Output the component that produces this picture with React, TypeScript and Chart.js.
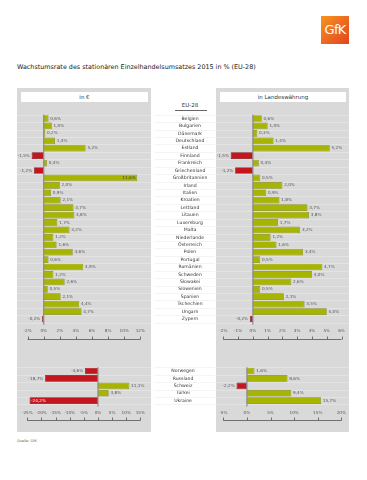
import React, { useEffect, useRef } from "react";
import { Chart, registerables } from "chart.js";

Chart.register(...registerables);

// ---------- DATA ----------
const euCountries = [
  "Belgien", "Bulgarien", "Dänemark", "Deutschland", "Estland", "Finnland",
  "Frankreich", "Griechenland", "Großbritannien", "Irland", "Italien", "Kroatien",
  "Lettland", "Litauen", "Luxemburg", "Malta", "Niederlande", "Österreich",
  "Polen", "Portugal", "Rumänien", "Schweden", "Slowakei", "Slowenien",
  "Spanien", "Tschechien", "Ungarn", "Zypern",
];
const euInEuro = [
  0.6, 1.0, 0.2, 1.4, 5.2, -1.5, 0.4, -1.2, 11.6, 2.0, 0.9, 2.1, 3.7, 3.8,
  1.7, 3.2, 1.2, 1.6, 3.6, 0.6, 4.9, 1.2, 2.6, 0.5, 2.1, 4.4, 4.7, -0.2,
];
const euInLocal = [
  0.6, 1.0, 0.3, 1.4, 5.2, -1.5, 0.4, -1.2, 0.5, 2.0, 0.9, 1.8, 3.7, 3.8,
  1.7, 3.2, 1.2, 1.6, 3.4, 0.5, 4.7, 4.0, 2.6, 0.5, 2.1, 3.5, 5.0, -0.2,
];
const otherCountries = ["Norwegen", "Russland", "Schweiz", "Türkei", "Ukraine"];
const otherInEuro = [-4.6, -18.7, 11.1, 3.8, -24.2];
const otherInLocal = [1.6, 8.6, -2.2, 9.4, 15.7];

const ticksEuUpper = [-2, 0, 2, 4, 6, 8, 10, 12];
const ticksLocalUpper = [-2, -1, 0, 1, 2, 3, 4, 5, 6];
const ticksEuLower = [-25, -20, -15, -10, -5, 0, 5, 10, 15];
const ticksLocalLower = [-5, 0, 5, 10, 15, 20];

const TITLE = "Wachstumsrate des stationären Einzelhandelsumsatzes 2015 in % (EU-28)";
const HEADER_LEFT = "in €";
const HEADER_RIGHT = "in Landeswährung";
const HEADER_MID = "EU-28";
const SOURCE = "Quelle: GfK";

// ---------- STYLE ----------
const FONT = "'DejaVu Sans', Verdana, sans-serif";
const GREEN = "#a7b500";
const GREEN_B = "#7f8a1e";
const RED = "#c3161f";
const RED_B = "#7e1016";
const PANEL = "#d9d9d9";
const CAT_SIZE = 4.6;
const TICK_SIZE = 4.2;
const VAL_SIZE = 4.2;

const fmt = (v: number) => v.toFixed(1).replace(".", ",") + "%";

type PanelProps = {
  labels: string[];
  values: number[];
  ticks: number[];
  showCats: boolean;
  catCenter?: number;
  left: number;
  top: number;
  width: number;
  height: number;
  chartLeft: number;
  chartRight: number;
  chartTop: number;
  chartBottom: number;
  panelRange: [number, number];
  colRange?: [number, number];
  labelMin: number;
  axisGap: number;
};

function BarPanel(p: PanelProps) {
  const ref = useRef<HTMLCanvasElement | null>(null);
  useEffect(() => {
    const canvas = ref.current!;
    const axisH = 20;
    const yWidth = p.showCats ? p.chartLeft : 0;
    const padLeft = p.showCats ? 0 : p.chartLeft;
    const padRight = p.width - p.chartRight;
    const padTop = p.chartTop;
    const padBottom = p.height - p.chartBottom - axisH;

    let tickPad = 0;
    if (p.showCats) {
      const m = document.createElement("canvas").getContext("2d")!;
      m.font = `normal ${CAT_SIZE}px ${FONT}`;
      const widest = Math.max(...p.labels.map((l) => m.measureText(l).width));
      tickPad = yWidth - (p.catCenter ?? 0) - widest / 2;
    }

    const step = p.ticks[1] - p.ticks[0];

    const decor = {
      id: "decor",
      beforeDatasetsDraw(chart: any) {
        const { ctx } = chart;
        const y = chart.scales.y;
        ctx.save();
        ctx.lineWidth = 0.6;
        for (let i = 0; i <= p.labels.length; i++) {
          const yy = Math.round(y.getPixelForValue(i - 0.5)) + 0.5;
          ctx.strokeStyle = "rgba(255,255,255,0.45)";
          ctx.beginPath();
          ctx.moveTo(p.panelRange[0], yy);
          ctx.lineTo(p.panelRange[1], yy);
          ctx.stroke();
          if (p.colRange) {
            ctx.strokeStyle = "#ededed";
            ctx.beginPath();
            ctx.moveTo(p.colRange[0], yy);
            ctx.lineTo(p.colRange[1], yy);
            ctx.stroke();
          }
        }
        ctx.restore();
      },
      afterDatasetsDraw(chart: any) {
        const { ctx, chartArea } = chart;
        const x = chart.scales.x;
        const meta = chart.getDatasetMeta(0);
        const x0 = x.getPixelForValue(0);
        ctx.save();
        ctx.strokeStyle = "#8a8a8a";
        ctx.lineWidth = 1.2;
        ctx.beginPath();
        ctx.moveTo(x0, chartArea.top);
        ctx.lineTo(x0, chartArea.bottom + 2);
        ctx.stroke();
        ctx.font = `normal ${VAL_SIZE}px ${FONT}`;
        ctx.textBaseline = "middle";
        meta.data.forEach((el: any, i: number) => {
          const v = p.values[i];
          const t = fmt(v);
          const w = ctx.measureText(t).width;
          const end = el.x;
          if (v >= 0) {
            if (end + 2 + w > p.panelRange[1] - 1) {
              ctx.fillStyle = "#3a3a3a";
              ctx.textAlign = "right";
              ctx.fillText(t, end - 1.5, el.y);
            } else {
              ctx.fillStyle = "#555";
              ctx.textAlign = "left";
              ctx.fillText(t, end + 1.8, el.y);
            }
          } else {
            if (end - 1.8 - w < p.labelMin) {
              ctx.fillStyle = "#fff";
              ctx.textAlign = "left";
              ctx.fillText(t, end + 1.5, el.y);
            } else {
              ctx.fillStyle = "#555";
              ctx.textAlign = "right";
              ctx.fillText(t, end - 1.8, el.y);
            }
          }
        });
        ctx.restore();
      },
      afterDraw(chart: any) {
        const { ctx, chartArea } = chart;
        const x = chart.scales.x;
        const ly = Math.round(chartArea.bottom + p.axisGap) + 0.5;
        ctx.save();
        ctx.strokeStyle = "#555";
        ctx.lineWidth = 0.8;
        ctx.beginPath();
        ctx.moveTo(chartArea.left, ly);
        ctx.lineTo(chartArea.right, ly);
        x.ticks.forEach((t: any) => {
          const px = Math.round(x.getPixelForValue(t.value)) + 0.5;
          ctx.moveTo(px, ly);
          ctx.lineTo(px, ly - 3);
        });
        ctx.stroke();
        ctx.restore();
      },
    };

    const chart = new Chart(canvas, {
      type: "bar",
      data: {
        labels: p.labels,
        datasets: [
          {
            data: p.values,
            backgroundColor: p.values.map((v) => (v < 0 ? RED : GREEN)),
            borderColor: p.values.map((v) => (v < 0 ? RED_B : GREEN_B)),
            borderWidth: 0.7,
            barPercentage: 0.9,
            categoryPercentage: 1,
          },
        ],
      },
      options: {
        indexAxis: "y",
        responsive: false,
        animation: false,
        events: [],
        layout: { padding: { left: padLeft, right: padRight, top: padTop, bottom: padBottom } },
        plugins: { legend: { display: false }, tooltip: { enabled: false } },
        scales: {
          x: {
            min: p.ticks[0],
            max: p.ticks[p.ticks.length - 1],
            grid: { display: false, drawTicks: false },
            border: { display: false },
            ticks: {
              stepSize: step,
              autoSkip: false,
              maxRotation: 0,
              padding: 6,
              color: "#555",
              font: { family: FONT, size: TICK_SIZE },
              callback: (v: any) => `${v}%`,
            },
            afterFit: (s: any) => {
              s.height = axisH;
            },
          },
          y: {
            display: p.showCats,
            position: "left",
            grid: { display: false, drawTicks: false },
            border: { display: false },
            ticks: {
              autoSkip: false,
              crossAlign: "center",
              padding: tickPad,
              color: "#333",
              font: { family: FONT, size: CAT_SIZE },
            },
            afterFit: (s: any) => {
              s.width = yWidth;
              s.paddingTop = 0;
              s.paddingBottom = 0;
            },
          },
        },
      } as any,
      plugins: [decor],
    });
    return () => chart.destroy();
  }, []);
  return (
    <canvas
      ref={ref}
      width={p.width}
      height={p.height}
      style={{ position: "absolute", left: p.left, top: p.top, width: p.width, height: p.height }}
    />
  );
}

export default function App() {
  useEffect(() => {
    document.body.style.margin = "0";
  }, []);
  const abs = (s: React.CSSProperties): React.CSSProperties => ({ position: "absolute", ...s });
  return (
    <div
      style={{
        position: "fixed",
        left: 0,
        top: 0,
        width: 367,
        height: 480,
        background: "#fff",
        overflow: "hidden",
        fontFamily: FONT,
        color: "#222",
      }}
    >
      <div
        style={abs({
          left: 321,
          top: 16,
          width: 28,
          height: 28,
          background: "linear-gradient(135deg, #f7941d 0%, #ee6a22 50%, #e2451c 100%)",
          color: "#fff",
          fontSize: 13,
          lineHeight: "28px",
          textAlign: "center",
          letterSpacing: -0.8,
        })}
      >
        GfK
      </div>
      <div style={abs({ left: 17, top: 63, fontSize: 6.4, lineHeight: "8px", whiteSpace: "nowrap" })}>{TITLE}</div>

      <div style={abs({ left: 17, top: 88, width: 134, height: 344, background: PANEL })} />
      <div style={abs({ left: 216, top: 88, width: 133, height: 344, background: PANEL })} />

      <div
        style={abs({
          left: 21, top: 92, width: 127, height: 10, background: "#fff",
          fontSize: 5.5, lineHeight: "10px", textAlign: "center", color: "#333",
        })}
      >
        {HEADER_LEFT}
      </div>
      <div
        style={abs({
          left: 220, top: 92, width: 126, height: 10, background: "#fff",
          fontSize: 5.5, lineHeight: "10px", textAlign: "center", color: "#333",
        })}
      >
        {HEADER_RIGHT}
      </div>
      <div style={abs({ left: 160, top: 101, width: 60, fontSize: 5.5, lineHeight: "8px", textAlign: "center", color: "#333" })}>
        {HEADER_MID}
      </div>
      <div style={abs({ left: 175, top: 110, width: 32, height: 1, background: "#666" })} />

      <BarPanel
        labels={euCountries} values={euInEuro} ticks={ticksEuUpper} showCats={false}
        left={8} top={108} width={143} height={240}
        chartLeft={19.6} chartRight={137} chartTop={6.8} chartBottom={214.7}
        panelRange={[9, 143]} labelMin={6} axisGap={16.6}
      />
      <BarPanel
        labels={euCountries} values={euInLocal} ticks={ticksLocalUpper} showCats={true} catCenter={37}
        left={153} top={108} width={199} height={240}
        chartLeft={70.3} chartRight={188.5} chartTop={6.8} chartBottom={214.7}
        panelRange={[63, 196]} colRange={[2, 62]} labelMin={45} axisGap={16.6}
      />
      <BarPanel
        labels={otherCountries} values={otherInEuro} ticks={ticksEuLower} showCats={false}
        left={8} top={355} width={143} height={75}
        chartLeft={19.3} chartRight={137} chartTop={12.3} chartBottom={49.4}
        panelRange={[9, 143]} labelMin={6} axisGap={15.6}
      />
      <BarPanel
        labels={otherCountries} values={otherInLocal} ticks={ticksLocalLower} showCats={true} catCenter={30}
        left={153} top={355} width={199} height={75}
        chartLeft={70.3} chartRight={188.7} chartTop={12.3} chartBottom={49.4}
        panelRange={[63, 196]} colRange={[2, 62]} labelMin={45} axisGap={15.6}
      />

      <div style={abs({ left: 17, top: 439, fontSize: 3.5, lineHeight: "5px", color: "#666" })}>{SOURCE}</div>
    </div>
  );
}
